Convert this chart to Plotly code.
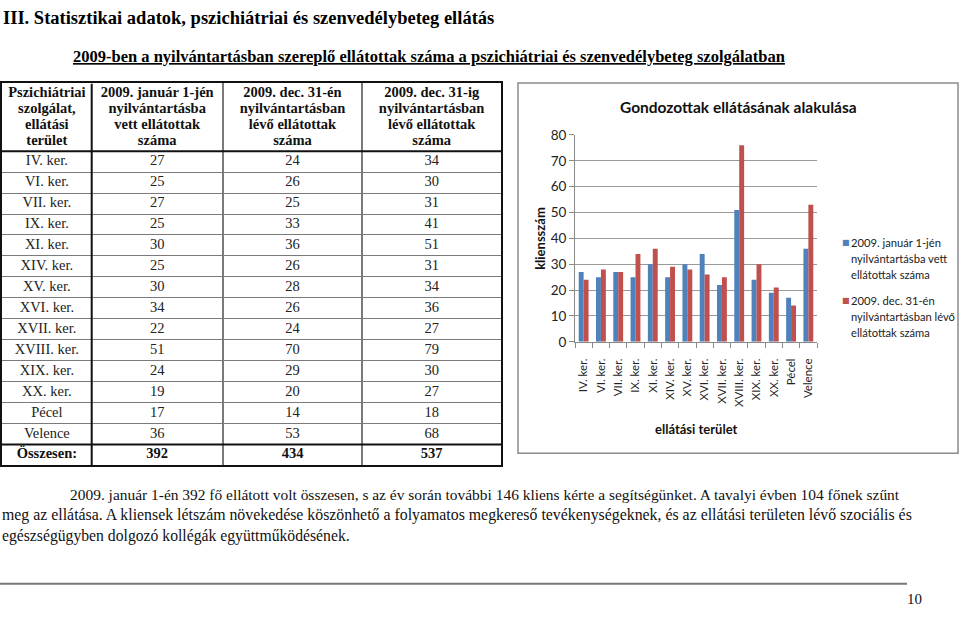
import plotly.graph_objects as go

W, H = 960, 618

# ---------------- data ----------------
areas = ["IV. ker.", "VI. ker.", "VII. ker.", "IX. ker.", "XI. ker.", "XIV. ker.", "XV. ker.",
         "XVI. ker.", "XVII. ker.", "XVIII. ker.", "XIX. ker.", "XX. ker.", "Pécel", "Velence"]
jan1_table = [27, 25, 27, 25, 30, 25, 30, 34, 22, 51, 24, 19, 17, 36]
dec31_on_table = [24, 26, 25, 33, 36, 26, 28, 26, 24, 70, 29, 20, 14, 53]
dec31_until_table = [34, 30, 31, 41, 51, 31, 34, 36, 27, 79, 30, 27, 18, 68]
total_label = "Összesen:"
totals = [392, 434, 537]
header_lines = [
    ["Pszichiátriai", "szolgálat,", "ellátási", "terület"],
    ["2009. január 1-jén", "nyilvántartásba", "vett ellátottak", "száma"],
    ["2009. dec. 31-én", "nyilvántartásban", "lévő ellátottak", "száma"],
    ["2009. dec. 31-ig", "nyilvántartásban", "lévő ellátottak", "száma"],
]

chart_categories = areas
chart_jan1 = [27, 25, 27, 25, 30, 25, 30, 34, 22, 51, 24, 19, 17, 36]
chart_dec31 = [24, 28, 27, 34, 36, 29, 28, 26, 25, 76, 30, 21, 14, 53]
series_lines = [["2009. január 1-jén", "nyilvántartásba vett", "ellátottak száma"],
                ["2009. dec. 31-én", "nyilvántartásban lévő", "ellátottak száma"]]
chart_title = "Gondozottak ellátásának alakulása"
y_title = "kliensszám"
x_title = "ellátási terület"
y_ticks = [0, 10, 20, 30, 40, 50, 60, 70, 80]

page_heading = "III. Statisztikai adatok, pszichiátriai és szenvedélybeteg ellátás"
table_caption = ("2009-ben a nyilvántartásban szereplő ellátottak száma a pszichiátriai "
                 "és szenvedélybeteg szolgálatban")
paragraph_lines = [
    "2009. január 1-én 392 fő ellátott volt összesen, s az év során további 146 kliens kérte a segítségünket. A tavalyi évben 104 főnek szűnt",
    "meg az ellátása. A kliensek létszám növekedése köszönhető a folyamatos megkereső tevékenységeknek, és az ellátási területen lévő szociális és",
    "egészségügyben dolgozó kollégák együttműködésének.",
]
page_number = "10"

# ---------------- styles / layout constants ----------------
SERIF = "Liberation Serif, Times New Roman, serif"
SANS = "Lato, Carlito, Calibri, sans-serif"
BLUE, RED = "#4F81BD", "#C0504D"


def px(x):
    return x / W


def py(y):
    return 1 - y / H


# table geometry (pixels of the page)
TABLE_LEFT, TABLE_RIGHT = 2, 501
TABLE_TOP, HEADER_BOTTOM, ROW_H = 77.5, 147.0, 21.5
col_edges = [0, 89.7, 220.7, 360.3, 499]
col_centers = [(col_edges[i] + col_edges[i + 1]) / 2 for i in range(4)]
n_rows = len(areas) + 1
header_units = (HEADER_BOTTOM - TABLE_TOP) / ROW_H
y_top = -0.5 - header_units
y_bot = n_rows - 0.5
TABLE_BOTTOM = HEADER_BOTTOM + n_rows * ROW_H
header_first = y_top + (87.7 - TABLE_TOP) / ROW_H
header_pitch = 16.4 / ROW_H

fig = go.Figure()

# ---------------- table (x2 / y2) ----------------
hx, hy, ht = [], [], []
for c, lines in enumerate(header_lines):
    for l, t in enumerate(lines):
        hx.append(col_centers[c])
        hy.append(header_first + l * header_pitch)
        ht.append("<b>" + t + "</b>")
fig.add_trace(go.Scatter(x=hx, y=hy, text=ht, mode="text", xaxis="x2", yaxis="y2",
                         textfont=dict(family=SERIF, size=14.5, color="#111"),
                         hoverinfo="skip", showlegend=False))

bx, by, bt = [], [], []
for r, name in enumerate(areas):
    vals = [name, jan1_table[r], dec31_on_table[r], dec31_until_table[r]]
    for c, v in enumerate(vals):
        bx.append(col_centers[c])
        by.append(r)
        bt.append(str(v))
fig.add_trace(go.Scatter(x=bx, y=by, text=bt, mode="text", xaxis="x2", yaxis="y2",
                         textfont=dict(family=SERIF, size=14.5, color="#222"),
                         hoverinfo="skip", showlegend=False))

tot_vals = [total_label] + totals
fig.add_trace(go.Scatter(x=col_centers, y=[len(areas)] * 4,
                         text=["<b>" + str(v) + "</b>" for v in tot_vals],
                         mode="text", xaxis="x2", yaxis="y2",
                         textfont=dict(family=SERIF, size=14.5, color="#111"),
                         hoverinfo="skip", showlegend=False))

# thick table rules
thick = dict(color="#111", width=2)
fig.add_shape(type="line", xref="x2", yref="y2", x0=col_edges[1], x1=col_edges[1],
              y0=y_top, y1=y_bot, line=thick)
fig.add_shape(type="line", xref="x2", yref="y2", x0=col_edges[0], x1=col_edges[-1],
              y0=-0.5, y1=-0.5, line=thick)
fig.add_shape(type="line", xref="x2", yref="y2", x0=col_edges[0], x1=col_edges[-1],
              y0=len(areas) - 0.5, y1=len(areas) - 0.5, line=thick)

# ---------------- bar chart (x / y) ----------------
fig.add_trace(go.Bar(x=chart_categories, y=chart_jan1, name=" ".join(series_lines[0]),
                     marker=dict(color=BLUE, line=dict(width=0)), showlegend=False))
fig.add_trace(go.Bar(x=chart_categories, y=chart_dec31, name=" ".join(series_lines[1]),
                     marker=dict(color=RED, line=dict(width=0)), showlegend=False))


def ann(text, x, y, size, family=SANS, color="#111", xanchor="center", yanchor="middle", **kw):
    return dict(text=text, x=px(x), y=py(y), xref="paper", yref="paper", showarrow=False,
                xanchor=xanchor, yanchor=yanchor, font=dict(family=family, size=size, color=color), **kw)


annotations = []
annotations.append(ann("<b>" + chart_title + "</b>", 738, 101.5, 15.5))
annotations.append(ann("<b>" + y_title + "</b>", 540, 237, 13, textangle=-90))
annotations.append(ann("<b>" + x_title + "</b>", 696.5, 432, 13))
for i, (lines, col, ytop) in enumerate(zip(series_lines, [BLUE, RED], [240.7, 300])):
    annotations.append(ann("■", 846, ytop, 8, family="DejaVu Sans", color=col))
    for l, t in enumerate(lines):
        annotations.append(ann(t, 849, ytop + l * 16.4, 11.2, color="#222", xanchor="left"))

annotations.append(ann("<b>" + page_heading + "</b>", 1, 10.5, 18.5, family=SERIF, color="#000",
                       xanchor="left"))
annotations.append(ann("<b><span style='text-decoration:underline'>" + table_caption + "</span></b>",
                       429, 49.3, 16.5, family=SERIF, color="#000"))
para_sizes = [15.45, 15.85, 15.7]
for i, (line, x0, fs) in enumerate(zip(paragraph_lines, [68, 0, 0], para_sizes)):
    annotations.append(ann(line, x0, 499.5 + i * 21.2, fs, family=SERIF, color="#111", xanchor="left"))
annotations.append(ann(page_number, 914, 607, 15, family=SERIF, color="#111"))

shapes_extra = [
    dict(type="rect", xref="paper", yref="paper", x0=px(518), x1=px(958), y0=py(457), y1=py(77),
         line=dict(color="#8c8c8c", width=1.5), layer="below"),
    dict(type="line", xref="paper", yref="paper", x0=0, x1=px(907), y0=py(591), y1=py(591),
         line=dict(color="#777", width=2)),
]
for s in shapes_extra:
    fig.add_shape(**s)

axis_grey = "#8a8a8a"
fig.update_layout(
    width=W, height=H, margin=dict(l=0, r=0, t=0, b=0),
    paper_bgcolor="white", plot_bgcolor="white",
    barmode="group", bargap=0.43, bargroupgap=0,
    showlegend=False,
    annotations=annotations,
    xaxis=dict(domain=[px(575), px(817)], anchor="y", type="category",
               tickangle=-90, ticks="outside", tickson="boundaries", ticklen=5,
               tickcolor=axis_grey, showline=True, linecolor=axis_grey, linewidth=1,
               showgrid=False, ticklabelstandoff=11,
               tickfont=dict(family=SANS, size=11.5, color="#222"), fixedrange=True),
    yaxis=dict(domain=[py(342.7), py(130.3)], anchor="x", range=[0, 80], tickvals=y_ticks,
               ticks="outside", ticklen=5, tickcolor=axis_grey, showline=True,
               linecolor=axis_grey, linewidth=1, gridcolor="#9a9a9a", gridwidth=1,
               zeroline=False, tickfont=dict(family=SANS, size=13.5, color="#222"),
               fixedrange=True),
    xaxis2=dict(domain=[px(TABLE_LEFT), px(TABLE_RIGHT)], anchor="y2",
                range=[col_edges[0], col_edges[-1]],
                tickvals=col_edges[2:-1], showticklabels=False, ticks="",
                showgrid=True, gridcolor="#7a7a7a", gridwidth=1.5, zeroline=False,
                showline=True, linecolor="#111", linewidth=2, mirror=True, fixedrange=True),
    yaxis2=dict(domain=[py(TABLE_BOTTOM), py(TABLE_TOP)], anchor="x2", range=[y_bot, y_top],
                tickvals=[r + 0.5 for r in range(len(areas) - 1)], showticklabels=False, ticks="",
                showgrid=True, gridcolor="#7a7a7a", gridwidth=1.2, zeroline=False,
                showline=True, linecolor="#111", linewidth=2, mirror=True, fixedrange=True),
)

page_css = ("document.documentElement.style.margin='0';document.body.style.margin='0';"
            "document.documentElement.style.overflow='hidden';document.body.style.overflow='hidden';"
            "var gd=document.getElementById('{plot_id}');gd.style.position='fixed';"
            "gd.style.left='0px';gd.style.top='0px';")
fig.write_html("out.html", config={"displayModeBar": False}, post_script=page_css)
